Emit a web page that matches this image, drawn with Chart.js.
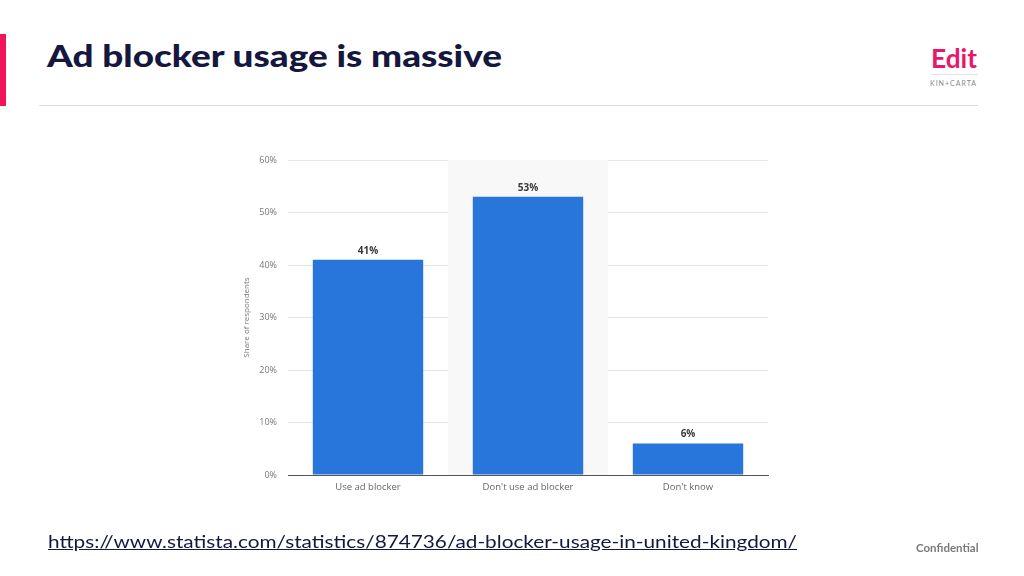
<!DOCTYPE html>
<html>
<head>
<meta charset="utf-8">
<script src="https://cdn.jsdelivr.net/npm/chart.js@4/dist/chart.umd.min.js"></script>
<style>
  html, body { margin:0; padding:0; background:#fff; }
  #page { position:relative; width:1024px; height:576px; overflow:hidden; background:#fff; }
  #accent { position:absolute; left:0; top:34px; width:6px; height:72px; background:#f0155b; }
  #title { position:absolute; left:47px; top:40px; font-family:Lato, "Noto Sans", sans-serif; font-weight:900; font-size:30px; color:#15173f; white-space:nowrap; line-height:1; transform-origin:0 0; }
  #sep { position:absolute; left:39px; top:105px; width:939px; height:1px; background:#dcdcdc; }
  #logo { position:absolute; left:931px; top:45px; font-family:Lato, sans-serif; font-weight:700; font-size:31px; color:#e9176a; line-height:1; }
  #logoline { position:absolute; left:931px; top:74px; width:47px; height:1px; background:#e4e4e4; }
  #kin { position:absolute; left:930px; top:79px; font-family:Lato, sans-serif; font-size:7px; letter-spacing:1px; color:#8a8a8a; white-space:nowrap; }
  #url { position:absolute; left:48px; top:531px; font-family:Lato, "Noto Sans", sans-serif; font-size:18px; color:#15173f; text-decoration:underline; white-space:nowrap; line-height:1.2; transform-origin:0 0; }
  #conf { position:absolute; left:916px; top:541px; font-family:Lato, sans-serif; font-weight:700; font-size:11.5px; color:#7a7a7a; white-space:nowrap; }
  #chart { position:absolute; left:0; top:0; }
</style>
</head>
<body>
<div id="page">
  <div id="accent"></div>
  <div id="title">Ad blocker usage is massive</div>
  <div id="sep"></div>
  <div id="logo">Edit</div>
  <div id="logoline"></div>
  <div id="kin">KIN+CARTA</div>
  <canvas id="chart" width="1024" height="576"></canvas>
  <div id="url">https://www.statista.com/statistics/874736/ad-blocker-usage-in-united-kingdom/</div>
  <div id="conf">Confidential</div>
</div>
<script>
const categories = ["Use ad blocker", "Don't use ad blocker", "Don't know"];
const shares = [41, 53, 6];
const yTicks = [0, 10, 20, 30, 40, 50, 60];
const highlightedIndex = 1;

function fitStretch(id, target) {
  const el = document.getElementById(id);
  const w = el.getBoundingClientRect().width;
  el.style.transform = 'scaleX(' + (target / w) + ')';
}
function fitWidth(id, target) {
  const el = document.getElementById(id);
  const fs = parseFloat(getComputedStyle(el).fontSize);
  const w = el.getBoundingClientRect().width;
  el.style.fontSize = (fs * target / w) + 'px';
}
fitStretch('title', 455);
fitStretch('url', 749);
fitWidth('logo', 46);

const highlightPlugin = {
  id: 'highlight',
  beforeDatasetsDraw(chart) {
    const {ctx, chartArea, scales} = chart;
    const x = scales.x;
    const step = x.getPixelForValue(1) - x.getPixelForValue(0);
    const cx = x.getPixelForValue(highlightedIndex);
    ctx.save();
    ctx.fillStyle = '#f8f8f8';
    ctx.fillRect(cx - step / 2, chartArea.top, step, chartArea.bottom - chartArea.top);
    ctx.restore();
  }
};

const labelPlugin = {
  id: 'valueLabels',
  afterDatasetsDraw(chart) {
    const {ctx} = chart;
    const meta = chart.getDatasetMeta(0);
    ctx.save();
    ctx.font = 'bold 10px "Open Sans", sans-serif';
    ctx.fillStyle = '#3a3a3a';
    ctx.textAlign = 'center';
    ctx.textBaseline = 'bottom';
    meta.data.forEach((bar, i) => {
      ctx.fillText(shares[i] + '%', bar.x, bar.y - 4);
    });
    ctx.restore();
  }
};

new Chart(document.getElementById('chart'), {
  type: 'bar',
  data: {
    labels: categories,
    datasets: [{
      data: shares,
      backgroundColor: '#2875dc',
      borderWidth: 0,
      categoryPercentage: 1,
      barPercentage: 0.69
    }]
  },
  options: {
    responsive: false,
    animation: false,
    devicePixelRatio: 1,
    layout: { padding: { left: 236, right: 256, top: 160, bottom: 71 } },
    plugins: { legend: { display: false }, tooltip: { enabled: false } },
    scales: {
      x: {
        grid: { display: false, drawTicks: false },
        border: { display: true, color: '#555', width: 1 },
        ticks: { color: '#666', font: { family: '"Open Sans", sans-serif', size: 9.5 }, padding: 7, maxRotation: 0 },
        afterFit(s) { s.height = 30; }
      },
      y: {
        min: 0, max: 60,
        afterBuildTicks(s) { s.ticks = yTicks.map(v => ({ value: v })); },
        grid: { color: '#e6e6e6', drawTicks: false },
        border: { display: false },
        ticks: { color: '#777', font: { family: '"Open Sans", sans-serif', size: 9 }, padding: 11, callback: v => v + '%' },
        title: { display: true, text: 'Share of respondents', color: '#777', font: { family: '"Open Sans", sans-serif', size: 8 }, padding: { top: 6, bottom: 0 } },
        afterFit(s) { s.width = 52; }
      }
    }
  },
  plugins: [highlightPlugin, labelPlugin]
});
</script>
</body>
</html>
